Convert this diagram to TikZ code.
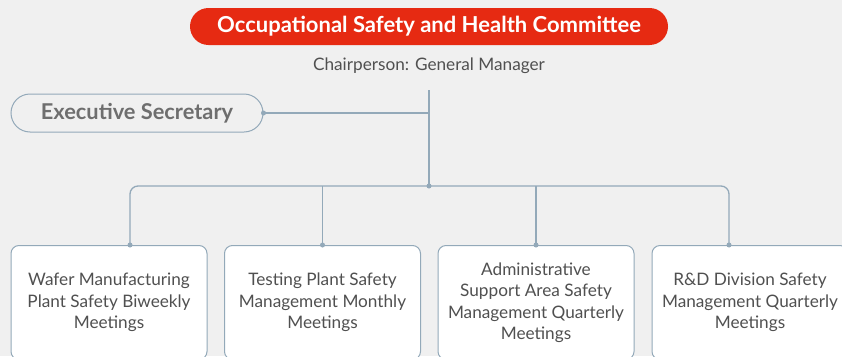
\documentclass[tikz,border=0pt]{standalone}
\usepackage{fontspec}
\setmainfont{Lato}
\usetikzlibrary{positioning, shapes.misc, calc}
\definecolor{bgGray}{HTML}{F0F0F0}
\definecolor{titleRed}{HTML}{E62A12}
\definecolor{lineBlue}{HTML}{93A9B9}
\definecolor{textGray}{HTML}{505050}
\definecolor{secGray}{HTML}{6E6E6E}
\tikzset{
    base/.style = {text centered, inner sep=0pt},
    % Boxes
    committee/.style = {base, rounded rectangle, fill=titleRed, text=white,
        font=\bfseries\fontsize{22}{26}\selectfont, minimum width=478pt, minimum height=37pt},
    chair/.style     = {base, text=textGray, font=\fontsize{17.2}{20}\selectfont},
    secretary/.style = {base, rounded rectangle, draw=lineBlue, line width=1pt, fill=bgGray,
        text=secGray, font=\bfseries\fontsize{21.8}{26}\selectfont, minimum width=252pt, minimum height=38pt},
    meeting/.style   = {base, rectangle, rounded corners=8pt, draw=lineBlue, line width=1pt, fill=white,
        text=textGray, align=center, font=\fontsize{17.2}{21.5}\selectfont,
        minimum width=196pt, minimum height=114pt, anchor=north},
    % Edges
    link/.style = {draw=lineBlue, line width=1.3pt},
    dot/.style  = {circle, fill=lineBlue, inner sep=0pt, minimum size=5pt}
}

\begin{document}
\begin{tikzpicture}[x=1pt, y=1pt]
    \useasboundingbox (0,0) rectangle (842,-356);
    \fill[bgGray] (0,0) rectangle (842,-356);

    \node (committee) [committee] at (429,-26.5) {Occupational Safety and Health Committee};
    \node (chair) [chair, below=12pt of committee] {Chairperson: General Manager};
    \coordinate (top) at (429,-90);
    \coordinate (hub) at (429,-186);

    \node (secretary) [secretary] at (137,-113) {Executive Secretary};

    \node (wafer) [meeting] at (109,-245) {Wafer Manufacturing\\Plant Safety Biweekly\\Meetings};
    \node (testing) [meeting] at (322.5,-245) {Testing Plant Safety\\Management Monthly\\Meetings};
    \node (admin) [meeting] at (536,-245) {Administrative\\Support Area Safety\\Management Quarterly\\Meetings};
    \node (rnd) [meeting] at (750,-245) {R\&D Division Safety\\Management Quarterly\\Meetings};

    \coordinate (wafer-in) at ($(wafer.north)+(21,0)$);
    \coordinate (rnd-in) at ($(rnd.north)+(-21,0)$);

    \draw [link] (top) -- (hub);
    \draw [link] (secretary.east) -- (secretary.east -| top);
    \draw [link, rounded corners=8pt] (wafer-in) |- (hub) -| (rnd-in);
    \draw [link] (hub -| testing.north) -- (testing.north);
    \draw [link] (hub -| admin.north) -- (admin.north);

    \foreach \p in {secretary.east, hub, wafer-in, testing.north, admin.north, rnd-in}
        \node [dot] at (\p) {};
\end{tikzpicture}
\end{document}
